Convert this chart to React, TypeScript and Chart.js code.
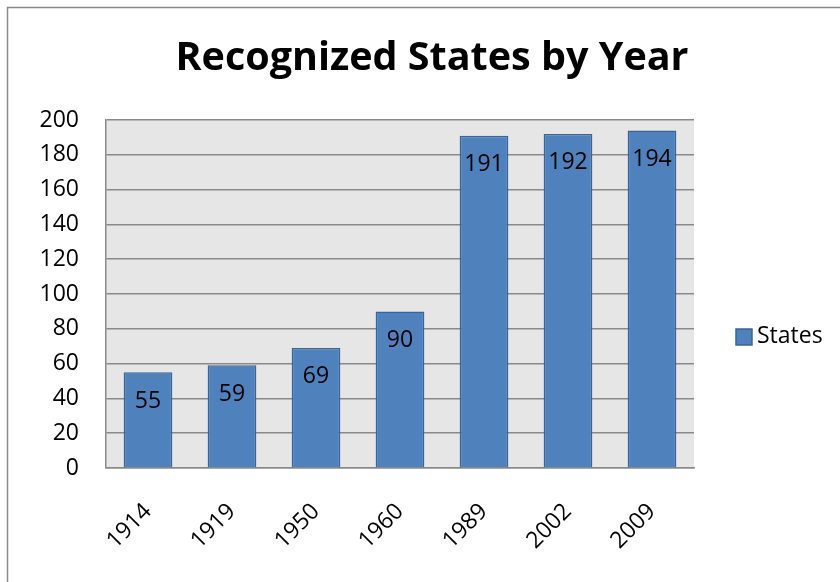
import React, { useEffect, useRef } from "react";
import { Chart, registerables } from "chart.js";

Chart.register(...registerables);

const title = "Recognized States by Year";
const seriesName = "States";
const years = ["1914", "1919", "1950", "1960", "1989", "2002", "2009"];
const states = [55, 59, 69, 90, 191, 192, 194];
const yMin = 0;
const yMax = 200;
const yStep = 20;

const FONT = "'Open Sans', Lato, sans-serif";
const BAR = "#4f81bd";
const BAR_BORDER = "#3a6494";
const GRID = "#898989";

export default function App() {
  const ref = useRef<HTMLCanvasElement>(null);
  useEffect(() => {
    if (!ref.current) return;
    const decor = {
      id: "decor",
      beforeDraw(chart: any) {
        const { ctx, chartArea } = chart;
        ctx.save();
        ctx.fillStyle = "#ffffff";
        ctx.fillRect(0, 0, chart.width, chart.height);
        ctx.fillStyle = "#e6e6e6";
        ctx.fillRect(chartArea.left, chartArea.top, chartArea.right - chartArea.left, chartArea.bottom - chartArea.top);
        ctx.strokeStyle = "#8a8a8a";
        ctx.lineWidth = 1.5;
        ctx.strokeRect(7.5, 7.5, chart.width + 20, chart.height + 20);
        ctx.restore();
      },
      afterDraw(chart: any) {
        const { ctx } = chart;
        ctx.save();
        // title
        ctx.fillStyle = "#000";
        ctx.font = "bold 39.5px " + FONT;
        ctx.textAlign = "center";
        ctx.textBaseline = "alphabetic";
        ctx.fillText(title, 432, 70);
        // data labels
        const meta = chart.getDatasetMeta(0);
        ctx.font = "23px " + FONT;
        ctx.textBaseline = "middle";
        meta.data.forEach((bar: any, i: number) => {
          ctx.fillText(String(chart.data.datasets[0].data[i]), bar.x, bar.y + 29);
        });
        // legend
        ctx.fillStyle = BAR;
        ctx.strokeStyle = BAR_BORDER;
        ctx.lineWidth = 1.5;
        ctx.fillRect(736, 329, 16, 16);
        ctx.strokeRect(736, 329, 16, 16);
        ctx.fillStyle = "#000";
        ctx.textAlign = "left";
        ctx.fillText(seriesName, 757, 336);
        ctx.restore();
      },
    };
    const chart = new Chart(ref.current, {
      type: "bar",
      data: {
        labels: years,
        datasets: [
          {
            label: seriesName,
            data: states,
            backgroundColor: BAR,
            borderColor: BAR_BORDER,
            borderWidth: 1.5,
            barPercentage: 0.58,
            categoryPercentage: 1,
          },
        ],
      },
      options: {
        responsive: false,
        animation: false,
        layout: { padding: { top: 120, right: 146, left: 0, bottom: 0 } },
        plugins: { legend: { display: false }, title: { display: false }, tooltip: { enabled: false } },
        scales: {
          x: {
            grid: { display: false, drawTicks: false },
            border: { display: true, color: GRID, width: 1.5 },
            ticks: {
              color: "#000",
              font: { family: FONT, size: 23 },
              minRotation: 45,
              maxRotation: 45,
              padding: 30,
            },
            afterFit(scale: any) {
              scale.height = 114;
            },
          },
          y: {
            min: yMin,
            max: yMax,
            grid: { color: GRID, lineWidth: 1.5, drawTicks: false },
            border: { display: true, color: GRID, width: 1.5 },
            ticks: {
              stepSize: yStep,
              color: "#000",
              font: { family: FONT, size: 23 },
              padding: 27,
            },
            afterFit(scale: any) {
              scale.width = 106;
            },
          },
        },
      },
      plugins: [decor],
    });
    return () => chart.destroy();
  }, []);
  return (
    <div style={{ position: "fixed", left: 0, top: 0, width: 840, height: 582 }}>
      <canvas ref={ref} width={840} height={582} />
    </div>
  );
}
